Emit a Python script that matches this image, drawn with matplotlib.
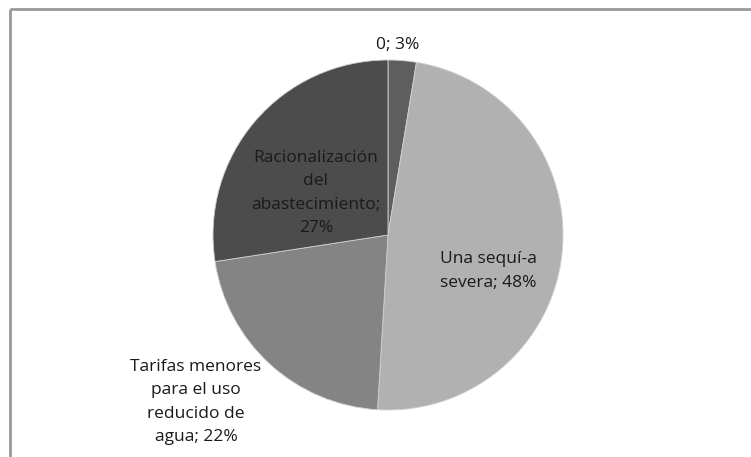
import matplotlib.pyplot as plt

# data
labels = ['0', 'Una sequí-a\nsevera', 'Tarifas menores\npara el uso\nreducido de\nagua',
          'Racionalización\ndel\nabastecimiento;\n']
values = [2.6, 48.3, 21.6, 27.4]
colors = ['#5e5e5e', '#b1b1b1', '#848484', '#4c4c4c']

plt.rcParams['font.family'] = ['Open Sans', 'DejaVu Sans']

W, H = 751, 457
fig = plt.figure(figsize=(W / 100, H / 100), dpi=100)
ax = fig.add_axes([0, 0, 1, 1])

# outer frame (only top and left visible)
ax.plot([10, 10], [0, H - 9], color='#999999', lw=2, solid_capstyle='butt')
ax.plot([10, W], [H - 9, H - 9], color='#999999', lw=2, solid_capstyle='butt')

ax.pie(values, colors=colors, startangle=90, counterclock=False,
       center=(388, H - 235), radius=175, frame=True,
       wedgeprops=dict(edgecolor='#d0d0d0', linewidth=0.6))
ax.set_xlim(0, W)
ax.set_ylim(0, H)
ax.set_aspect('equal')
ax.axis('off')

# label texts
txt = []
for lab, v in zip(labels, values):
    sep = '' if lab.endswith('\n') else '; '
    txt.append(f'{lab}{sep}{v:.0f}%')
pos = [(398, 45), (488, 271), (196, 402), (316, 193)]
for t, (x, y) in zip(txt, pos):
    ax.text(x, H - y, t, ha='center', va='center', fontsize=12.5,
            color='#1a1a1a', linespacing=1.63)

fig.savefig('out.png', dpi=100)
